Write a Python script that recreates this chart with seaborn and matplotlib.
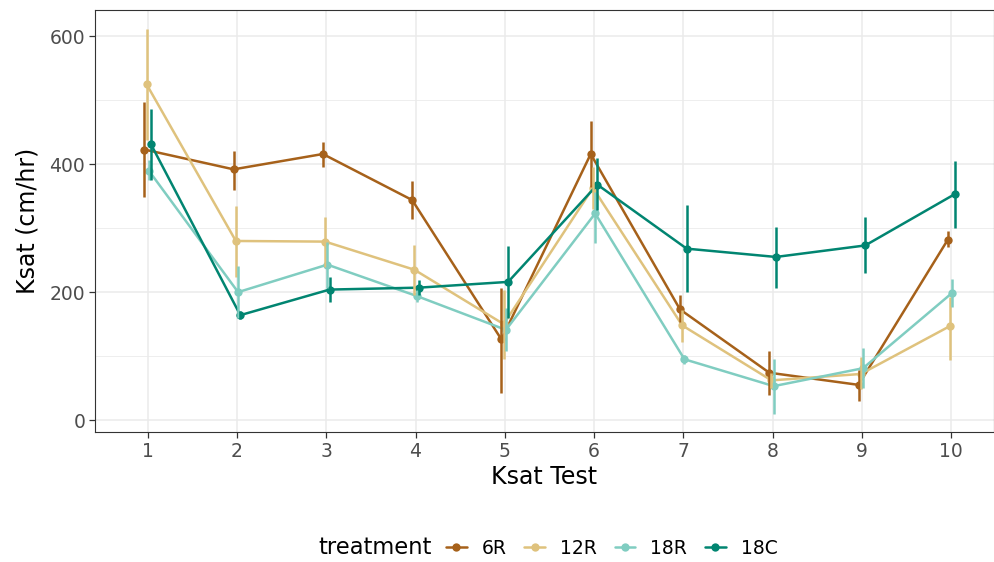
import numpy as np
import pandas as pd
import matplotlib
matplotlib.use("Agg")
import matplotlib.pyplot as plt
import seaborn as sns
from matplotlib.lines import Line2D

sns.set_style("white")
plt.rcParams['font.family'] = ['DejaVu Sans']

tests = [1, 2, 3, 4, 5, 6, 7, 8, 9, 10]
treatments = ["6R", "12R", "18R", "18C"]
colors = ["#A6611A", "#DFC27D", "#80CDC1", "#018571"]

# means and error-bar ends
mean_6r = [423, 392, 416, 344, 126, 416, 173, 74, 55, 282]
lo_6r = [348, 360, 396, 314, 43, 364, 154, 39, 29, 270]
hi_6r = [497, 421, 435, 374, 207, 468, 195, 108, 78, 296]

mean_12r = [525, 280, 279, 235, 150, 363, 148, 62, 72, 147]
lo_12r = [438, 224, 240, 196, 96, 330, 122, 50, 48, 94]
hi_12r = [612, 335, 318, 274, 204, 396, 172, 74, 98, 193]

mean_18r = [390, 200, 243, 194, 141, 323, 95, 53, 81, 199]
lo_18r = [375, 160, 207, 184, 108, 277, 88, 9, 50, 177]
hi_18r = [406, 241, 279, 204, 175, 357, 102, 95, 112, 221]

mean_18c = [431, 164, 204, 207, 216, 368, 268, 255, 273, 353]
lo_18c = [375, 158, 184, 195, 160, 329, 200, 206, 230, 300]
hi_18c = [486, 170, 223, 219, 272, 410, 336, 302, 317, 405]

means = [mean_6r, mean_12r, mean_18r, mean_18c]
los = [lo_6r, lo_12r, lo_18r, lo_18c]
his = [hi_6r, hi_12r, hi_18r, hi_18c]

rows = []
for i, t in enumerate(treatments):
    off = (i - 1.5) * 0.025
    for j, x in enumerate(tests):
        rows.append({"treatment": t, "test": x, "xd": x + off,
                     "ksat": means[i][j], "lo": los[i][j], "hi": his[i][j]})
df = pd.DataFrame(rows)

fig = plt.figure(figsize=(9.95, 5.62), dpi=100)
ax = fig.add_axes([0.0955, 0.231, 0.9035, 0.751])

pal = dict(zip(treatments, colors))
sns.lineplot(data=df, x="xd", y="ksat", hue="treatment", palette=pal,
             hue_order=treatments, marker="o", markersize=6, markeredgewidth=0,
             linewidth=1.8, legend=False, ax=ax, zorder=3)
for t in treatments:
    d = df[df.treatment == t]
    ax.vlines(d.xd, d.lo, d.hi, color=pal[t], linewidth=1.8, zorder=3)

ax.set_xlim(0.41, 10.48)
ax.set_ylim(-19, 641)
ax.set_xticks(tests)
ax.set_xticklabels([str(t) for t in tests])
ax.set_yticks([0, 200, 400, 600])
ax.set_yticks([100, 300, 500], minor=True)
ax.grid(True, which="major", color="#EBEBEB", linewidth=1.1, zorder=0)
ax.grid(True, which="minor", axis="y", color="#EBEBEB", linewidth=0.6, zorder=0)
ax.set_axisbelow(True)
for s in ax.spines.values():
    s.set_color("#333333")
    s.set_linewidth(0.8)
ax.tick_params(axis="both", which="major", length=4.5, width=0.9, color="#333333",
               labelsize=13.5, labelcolor="#4D4D4D", pad=2.5, direction="out",
               bottom=True, left=True)
ax.tick_params(axis="y", which="minor", length=0)
ax.set_xlabel("Ksat Test", fontsize=17, labelpad=3, color="black")
ax.set_ylabel("Ksat (cm/hr)", fontsize=17, labelpad=7, color="black")

handles = [Line2D([0], [0], color=c, linewidth=1.8, marker="o", markersize=6,
                  markeredgewidth=0) for c in colors]
fig.text(318 / 995, 1 - 548 / 562, "treatment", fontsize=16.3, ha="left",
         va="center", color="black")
fig.legend(handles, treatments, loc="center left",
           bbox_to_anchor=(446 / 995, 1 - 548 / 562),
           ncol=4, frameon=False, fontsize=13.5, handlelength=1.1,
           handletextpad=0.8, columnspacing=0.95, borderpad=0, borderaxespad=0,
           labelcolor="black")

fig.savefig("out.png", dpi=100)
